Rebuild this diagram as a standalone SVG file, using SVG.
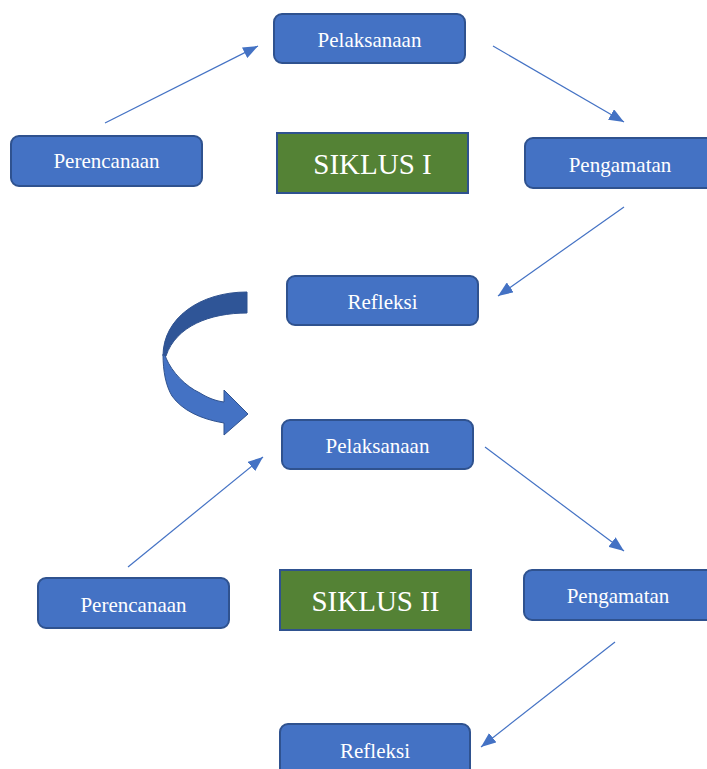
<svg xmlns="http://www.w3.org/2000/svg" width="707" height="769" viewBox="0 0 707 769">
<style>
.box{fill:#4472C4;stroke:#2F528F;stroke-width:2}
.green{fill:#548235;stroke:#2F528F;stroke-width:2}
.lbl{font-family:"Liberation Serif","Times New Roman",serif;font-size:21px;fill:#FFFFFF;text-anchor:middle}
.big{font-family:"Liberation Serif","Times New Roman",serif;font-size:29px;fill:#FFFFFF;text-anchor:middle}
.conn{stroke:#4472C4;stroke-width:1.2;fill:none;marker-end:url(#ah)}
</style>
<defs>
<marker id="ah" markerUnits="userSpaceOnUse" markerWidth="16" markerHeight="12" refX="15" refY="6" orient="auto">
<path d="M0,0 L15,6 L0,12 Z" fill="#4472C4"/>
</marker>
</defs>
<rect width="707" height="769" fill="#FFFFFF"/>
<g id="connectors">
<line class="conn" x1="105" y1="123" x2="258" y2="46"/>
<line class="conn" x1="493" y1="46" x2="624" y2="122"/>
<line class="conn" x1="624" y1="207" x2="498" y2="296"/>
<line class="conn" x1="128" y1="567" x2="263" y2="457"/>
<line class="conn" x1="485" y1="447" x2="624" y2="551"/>
<line class="conn" x1="615" y1="642" x2="481" y2="747"/>
</g>
<g id="curved-arrow">
<path d="M247,292 L247,313 C210,313 176,326 166,356 L163,356 C163,318 200,292 247,292 Z" fill="#2F5597" stroke="#2F528F" stroke-width="1"/>
<path d="M163,354 C165,356 166,356 166,358 C172,372 185,386 200,393 C208,398 216,401 224,402 L224,390 L248,414 L224,435 L224,423 C200,419 182,410 172,396 C166,386 163,372 163,354 Z" fill="#4472C4" stroke="#2F528F" stroke-width="1"/>
</g>
<g id="pelaksanaan1"><rect class="box" x="274" y="14" width="191" height="49" rx="8"/><text class="lbl" x="369.5" y="47">Pelaksanaan</text></g>
<g id="perencanaan1"><rect class="box" x="11" y="136" width="191" height="50" rx="8"/><text class="lbl" x="106.5" y="168">Perencanaan</text></g>
<g id="siklus1"><rect class="green" x="277" y="133" width="191" height="60"/><text class="big" x="372.5" y="174">SIKLUS I</text></g>
<g id="pengamatan1"><rect class="box" x="525" y="138" width="195" height="50" rx="8"/><text class="lbl" x="620" y="172">Pengamatan</text></g>
<g id="refleksi1"><rect class="box" x="287" y="276" width="191" height="49" rx="8"/><text class="lbl" x="382.5" y="309">Refleksi</text></g>
<g id="pelaksanaan2"><rect class="box" x="282" y="420" width="191" height="49" rx="8"/><text class="lbl" x="377.5" y="453">Pelaksanaan</text></g>
<g id="perencanaan2"><rect class="box" x="38" y="578" width="191" height="50" rx="8"/><text class="lbl" x="133.5" y="612">Perencanaan</text></g>
<g id="siklus2"><rect class="green" x="280" y="570" width="191" height="60"/><text class="big" x="375.5" y="611">SIKLUS II</text></g>
<g id="pengamatan2"><rect class="box" x="524" y="570" width="195" height="50" rx="8"/><text class="lbl" x="618" y="603">Pengamatan</text></g>
<g id="refleksi2"><rect class="box" x="280" y="724" width="190" height="60" rx="8"/><text class="lbl" x="375" y="758">Refleksi</text></g>
</svg>
